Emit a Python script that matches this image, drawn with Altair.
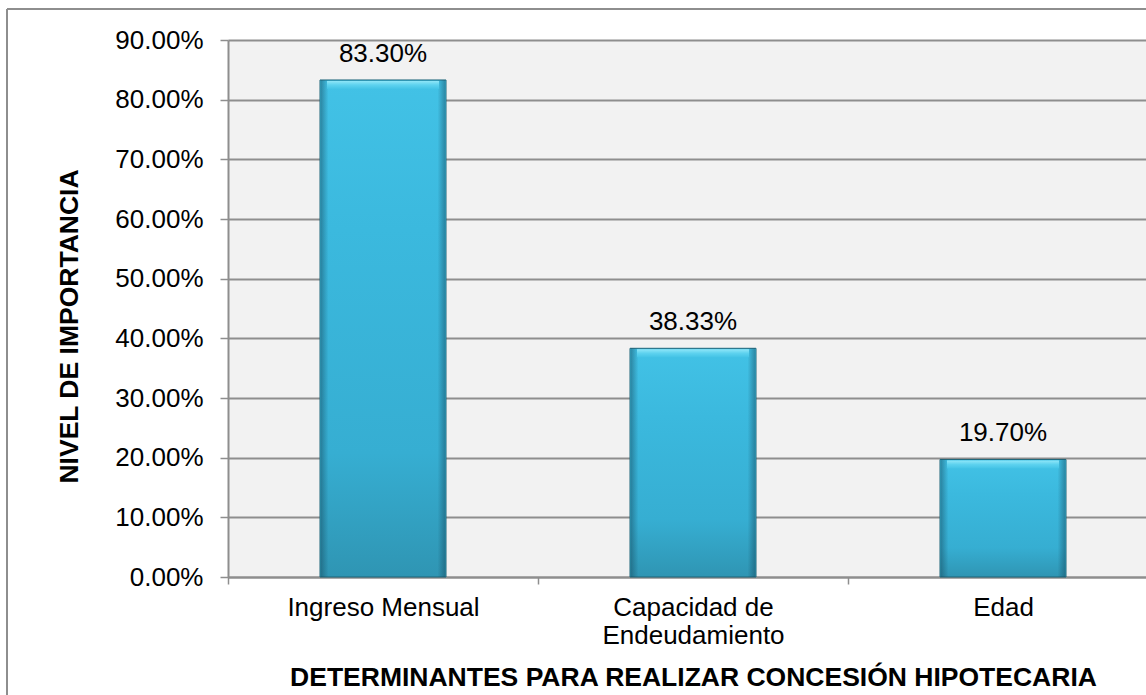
import altair as alt
import pandas as pd

# Determinants for granting a mortgage and their importance level
categories = ["Ingreso Mensual", "Capacidad de Endeudamiento", "Edad"]
importance = [0.833, 0.3833, 0.197]
y_ticks = [0.0, 0.1, 0.2, 0.3, 0.4, 0.5, 0.6, 0.7, 0.8, 0.9]

df = pd.DataFrame({"determinante": categories, "nivel": importance})

FONT = "Liberation Sans"
GRID = "#8e8e8e"

x_enc = alt.X(
    "determinante:N",
    sort=categories,
    scale=alt.Scale(range=[0, 930], paddingInner=0, paddingOuter=0),
    axis=alt.Axis(
        title="DETERMINANTES PARA REALIZAR CONCESIÓN HIPOTECARIA",
        titleFont=FONT, titleFontSize=26.5, titleFontWeight="bold", titleColor="#000000",
        titleX=465, titleY=108, titleBaseline="alphabetic", titleAnchor="middle",
        titleLimit=0,
        labelFont=FONT, labelFontSize=26, labelColor="#000000", labelAngle=0,
        labelBaseline="alphabetic", labelPadding=31, labelLineHeight=28,
        labelLimit=0,
        labelExpr="datum.label == 'Capacidad de Endeudamiento' ? ['Capacidad de', 'Endeudamiento'] : datum.label",
        tickBand="extent", tickSize=7, tickColor=GRID, tickWidth=1.5,
        domainColor=GRID, domainWidth=2, grid=False,
    ),
)

y_enc = alt.Y(
    "nivel:Q",
    scale=alt.Scale(domain=[0, 0.9], nice=False),
    axis=alt.Axis(
        title="NIVEL DE IMPORTANCIA",
        titleFont=FONT, titleFontSize=26.5, titleFontWeight="bold", titleColor="#000000",
        titleAngle=270, titleX=-151, titleY=286, titleBaseline="alphabetic",
        titleLimit=0,
        values=y_ticks, format=".2%",
        labelFont=FONT, labelFontSize=26, labelColor="#000000", labelPadding=17,
        tickSize=8, tickColor=GRID, tickWidth=1.5,
        domainColor=GRID, domainWidth=2,
        grid=True, gridColor=GRID, gridWidth=2,
    ),
)

base = alt.Chart(df)

body_fill = alt.Gradient(
    gradient="linear", x1=0, y1=0, x2=0, y2=1,
    stops=[
        alt.GradientStop(color="#42c2e6", offset=0),
        alt.GradientStop(color="#3bb9de", offset=0.3),
        alt.GradientStop(color="#36aed2", offset=0.75),
        alt.GradientStop(color="#2f95b3", offset=1),
    ],
)
bars = base.mark_bar(size=126, fill=body_fill, stroke="#1d6579", strokeWidth=1).encode(
    x=x_enc, y=y_enc
)

edge_fill = alt.Gradient(
    gradient="linear", x1=0, y1=0, x2=1, y2=0,
    stops=[
        alt.GradientStop(color="rgba(20,70,90,0.45)", offset=0),
        alt.GradientStop(color="rgba(20,70,90,0)", offset=0.06),
        alt.GradientStop(color="rgba(20,70,90,0)", offset=0.94),
        alt.GradientStop(color="rgba(20,70,90,0.45)", offset=1),
    ],
)
edges = base.mark_bar(size=124, fill=edge_fill, strokeWidth=0).encode(
    x=alt.X("determinante:N", sort=categories), y="nivel:Q"
)

bevel_fill = alt.Gradient(
    gradient="linear", x1=0, y1=0, x2=0, y2=1,
    stops=[
        alt.GradientStop(color="#8fe6f8", offset=0),
        alt.GradientStop(color="#5dd2ef", offset=0.5),
        alt.GradientStop(color="#44c3e6", offset=1),
    ],
)
bevel = base.mark_tick(size=112, thickness=8, yOffset=5, color=bevel_fill, opacity=1).encode(
    x=alt.X("determinante:N", sort=categories), y="nivel:Q"
)

labels = base.mark_text(
    dy=-18, baseline="alphabetic", align="center", font=FONT, fontSize=26, color="#000000"
).encode(
    x=alt.X("determinante:N", sort=categories),
    y="nivel:Q",
    text=alt.Text("nivel:Q", format=".2%"),
)

frame_df = pd.DataFrame({"k": [0]})
frame_left = alt.Chart(frame_df).mark_rule(color=GRID, strokeWidth=2).encode(
    x=alt.value(-221), y=alt.value(-31), y2=alt.value(700)
)
frame_top = alt.Chart(frame_df).mark_rule(color=GRID, strokeWidth=2).encode(
    x=alt.value(-221), x2=alt.value(1000), y=alt.value(-31)
)

chart = (
    alt.layer(bars, edges, bevel, labels, frame_left, frame_top)
    .properties(
        width=918,
        height=537,
        autosize=alt.AutoSizeParams(type="none"),
        padding={"left": 228, "top": 40, "right": 0, "bottom": 118},
        background="#ffffff",
    )
    .configure(font=FONT)
    .configure_view(fill="#f2f2f2", stroke="transparent")
)

chart.save("out.html", embed_options={"renderer": "svg", "actions": False})
